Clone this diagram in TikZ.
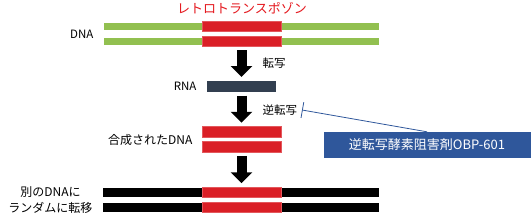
\documentclass[tikz,border=0pt]{standalone}
\usepackage{fontspec}
\setmainfont{Noto Sans CJK JP}
\usetikzlibrary{arrows.meta}
\definecolor{tpred}{RGB}{218,31,38}
\definecolor{titlered}{RGB}{228,24,30}
\definecolor{dnagreen}{RGB}{146,192,80}
\definecolor{rnaslate}{RGB}{50,63,80}
\definecolor{drugblue}{RGB}{47,87,155}

\begin{document}
\begin{tikzpicture}[x=1pt, y=-1pt, every node/.style={font=\fontsize{11.5}{13}\selectfont},
  bar/.style={inner sep=0pt, outer sep=0pt, minimum height=7pt},
  greenbar/.style={bar, fill=dnagreen, minimum width=275pt},
  blackbar/.style={bar, fill=black, minimum width=276pt, minimum height=9pt},
  redbar/.style={bar, fill=tpred, draw=tpred!75!white, line width=0.6pt, minimum width=79pt, minimum height=10.5pt},
  blockarrow/.style={line width=10pt, -{Triangle[length=11pt, width=21pt]}, shorten <=3.5pt, shorten >=4pt},
  lab/.style={font=\fontsize{12}{16}\selectfont}]

\useasboundingbox (0,0) rectangle (531,214);

% Retrotransposon inside the host DNA
\node[titlered, font=\fontsize{13}{15}\selectfont] (title) at (242,8) {レトロトランスポゾン};
\node[greenbar] (dna1) at (241.5,26.5) {};
\node[greenbar] (dna2) at (241.5,41.5) {};
\node[redbar] (tp1) at (241.5,26.5) {};
\node[redbar] (tp2) at (241.5,41.5) {};
\node[anchor=east] (dnalab) at (97,34) {DNA};

% Transcription
\node[bar, fill=rnaslate, minimum width=69pt, minimum height=11pt] (rna) at (241.5,86.5) {};
\node[anchor=east] (rnalab) at (200,86.5) {RNA};
\draw[blockarrow] (tp2.south) -- (rna.north);
\node[anchor=west] (txlab) at (259,63) {転写};

% Reverse transcription
\node[redbar] (cd1) at (241.5,132) {};
\node[redbar] (cd2) at (241.5,147) {};
\node[lab, anchor=east] (cdlab) at (196,140) {合成されたDNA};
\draw[blockarrow] (rna.south) -- (cd1.north);
\node[anchor=west] (rtlab) at (259,110) {逆転写};

% Inhibitor
\node[fill=drugblue, text=white, inner sep=0pt, minimum width=207pt, minimum height=26pt,
  font=\fontsize{13}{15}\selectfont] (obp) at (427,145) {逆転写酵素阻害剤OBP-601};
\coordinate (block) at (302,110);
\draw[drugblue, line width=0.8pt, -{Bar[width=16pt]}] (obp.north) -- (block);

% Random integration into other DNA
\node[blackbar] (new1) at (241,192.5) {};
\node[blackbar] (new2) at (241,207.5) {};
\node[redbar] (ins1) at (241.5,192.5) {};
\node[redbar] (ins2) at (241.5,207.5) {};
\draw[blockarrow] (cd2.south) -- (ins1.north);
\node[lab, anchor=east, align=center] (newlab) at (96,200) {別のDNAに\\ランダムに転移};

\end{tikzpicture}
\end{document}
